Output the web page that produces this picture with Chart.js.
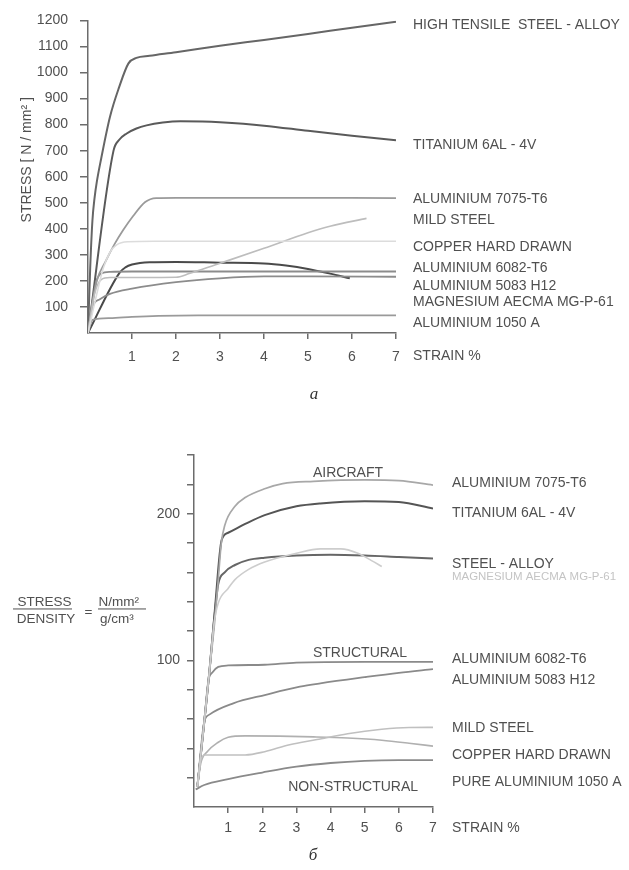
<!DOCTYPE html>
<html>
<head>
<meta charset="utf-8">
<script src="https://cdn.jsdelivr.net/npm/chart.js@4"></script>
<style>
  body { margin: 0; background: #fff; width: 629px; height: 870px; position: relative; overflow: hidden; }
  canvas { position: absolute; left: 0; }
  #top { top: 0; }
  #bottom { top: 420px; }
  .cap { position: absolute; width: 40px; text-align: center; font: italic 17px "Liberation Serif", serif; color: #333; }
</style>
</head>
<body>
<canvas id="top" width="629" height="420"></canvas>
<canvas id="bottom" width="629" height="450"></canvas>
<div class="cap" style="left:294px;top:384px">a</div>
<div class="cap" style="left:293px;top:845px">б</div>
<script>
// ---- chart a: stress (N/mm²) against strain (%) ----
const aHighTensile = [[0,0],[0.05,250],[0.1,430],[0.15,520],[0.2,580],[0.3,670],[0.5,830],[0.7,940],[0.92,1035],[1.1,1056],[1.4,1064],[2,1078],[3,1103],[4,1125],[5,1148],[6,1172],[7,1195]];
const aTitanium = [[0,0],[0.58,700],[0.7,740],[0.88,766],[1.1,785],[1.33,797],[1.7,808],[2.1,813],[2.6,812],[3,809],[4,796],[5,776],[6,757],[7,740]];
const aAl7075 = [[0,0],[0.1,110],[0.2,200],[0.4,275],[0.6,340],[0.8,395],[1.03,450],[1.3,503],[1.55,518],[2,519],[4,519],[7,518]];
const aMildSteel = [[0,0],[0.15,150],[0.3,205],[0.5,213],[1.2,213],[2.0,214],[2.3,228],[2.9,262],[4,325],[5,385],[5.5,410],[6.33,440]];
const aCopper = [[0,0],[0.2,150],[0.35,250],[0.5,310],[0.65,338],[0.9,350],[1.5,352],[7,352]];
const aAl6082 = [[0,0],[0.1,120],[0.2,205],[0.3,228],[0.5,235],[1,236],[7,236]];
const aAl5083 = [[0,0],[0.1,100],[0.27,130],[0.5,150],[1,170],[2,195],[3,210],[4,217],[5,217],[7,216]];
const aMagnesium = [[0,0],[0.72,232],[0.85,252],[1.0,263],[1.4,272],[2,273],[3,270],[4,267],[4.5,259],[5,246],[5.5,228],[5.95,210]];
const aAl1050 = [[0,0],[0.1,50],[0.5,57],[1,62],[1.6,66],[2.5,68],[7,68]];

const aNames = ['HIGH TENSILE  STEEL - ALLOY', 'TITANIUM 6AL - 4V', 'ALUMINIUM 7075-T6', 'MILD STEEL', 'COPPER HARD DRAWN',
  'ALUMINIUM 6082-T6', 'ALUMINIUM 5083 H12', 'MAGNESIUM AECMA MG-P-61', 'ALUMINIUM 1050 A'];
const aNameAt = [1181, 723, 513, 434, 330, 250, 181, 117, 39];
const aYTicks = [0, 1200, 100];
const aXTicks = [0, 7, 1];

// ---- chart б: stress / density against strain (%) ----
const bAl7075 = [[0.1,14],[0.3,58],[0.45,92],[0.6,125],[0.7,152],[0.8,180],[0.9,192],[1.2,205],[1.5,211],[2.07,217],[2.6,220.5],[3.5,222],[5,223],[6,222.5],[7,219.5]];
const bTitanium = [[0.1,14],[0.3,58],[0.45,92],[0.61,134],[0.81,182],[1.0,187],[1.5,193],[2.07,199],[3,205],[3.7,207],[5,208.5],[6,208],[7,203.5]];
const bSteelAlloy = [[0.1,14],[0.3,58],[0.45,92],[0.6,130],[0.71,152],[0.9,160],[1.2,165],[1.6,168.5],[2.07,170],[3,171.5],[4,172],[5,171.5],[6,170.5],[7,169.5]];
const bMagnesium = [[0.1,14],[0.3,58],[0.45,92],[0.58,124],[0.71,139],[1.0,149],[1.2,155],[1.6,162],[2.07,167],[3,173],[3.7,176],[4.3,176],[4.8,173],[5.2,168],[5.5,164]];
const bAl6082 = [[0.1,14],[0.3,58],[0.42,86],[0.55,92],[0.71,95.5],[1.0,96.5],[2.07,97],[3,98.5],[5,99],[7,99]];
const bAl5083 = [[0.1,14],[0.3,58],[0.45,63],[1.15,70.7],[2.1,76.5],[3.1,82],[3.7,84.3],[5,88.5],[6,91.5],[7,94]];
const bMildSteel = [[0.1,14],[0.2,32],[0.32,35.5],[1.0,35.5],[1.5,35.5],[2.07,37.7],[2.8,42.5],[3.6,46],[4.5,50],[5.5,53],[6.3,54.2],[7,54.3]];
const bCopper = [[0.1,14],[0.2,30],[0.4,38],[0.7,44],[1.0,47.5],[1.5,48.5],[2.5,48.3],[3.5,47.8],[4.5,47],[5.5,45.5],[6.3,43.5],[7,41.5]];
const bPureAl = [[0.05,12],[0.3,15],[1,19],[2,23.5],[3,27.5],[4,30],[5,31.5],[6,32],[7,32]];

const bNames = ['ALUMINIUM 7075-T6', 'TITANIUM 6AL - 4V', 'STEEL - ALLOY', 'MAGNESIUM AECMA MG-P-61', 'ALUMINIUM 6082-T6',
  'ALUMINIUM 5083 H12', 'MILD STEEL', 'COPPER HARD DRAWN', 'PURE ALUMINIUM 1050 A'];
const bNameAt = [220.6, 200.1, 165.5, 156.4, 100.6, 86.5, 53.6, 35.4, 17.2];
const bGroups = ['AIRCRAFT', 'STRUCTURAL', 'NON-STRUCTURAL'];
const bGroupAt = [[4.51, 227.5], [4.86, 105], [4.66, 13.6]];
const bYTicks = [0, 240, 20];
const bYLabelled = [100, 200];

const FONT = '"Liberation Sans", Arial, sans-serif';
const TEXT = '#505050';
const AXIS = '#6c6c6c';
Chart.defaults.font.family = FONT;
Chart.defaults.font.size = 14;
Chart.defaults.color = TEXT;

function line(points, color, width) {
  return {
    data: points.map((p) => ({ x: p[0], y: p[1] })),
    borderColor: color,
    borderWidth: width || 1.8,
    pointRadius: 0,
    cubicInterpolationMode: 'monotone',
    fill: false,
  };
}

function hideZero(ctx) {
  return ctx.tick && ctx.tick.value === 0 ? 'rgba(0,0,0,0)' : AXIS;
}

function axisOptions(range, tickLen, pad, label) {
  return {
    type: 'linear',
    min: range[0],
    max: range[1],
    ticks: { stepSize: range[2], autoSkip: false, padding: pad, callback: label },
    grid: { drawOnChartArea: false, drawTicks: true, tickLength: tickLen, color: hideZero, lineWidth: 1.5 },
    border: { display: true, color: AXIS, width: 1.5 },
  };
}

// chart a
var xa = axisOptions(aXTicks, 6, 10, (v) => (v === 0 ? '' : v));
xa.afterFit = (s) => { s.height = 87; };
var ya = axisOptions(aYTicks, 8, 12, (v) => (v === 0 ? '' : v));
ya.afterFit = (s) => { s.width = 88; };

new Chart(document.getElementById('top'), {
  type: 'line',
  data: {
    datasets: [
      line(aCopper, '#dcdcdc', 1.6),
      line(aMildSteel, '#bdbdbd', 1.6),
      line(aAl7075, '#9a9a9a'),
      line(aAl1050, '#9a9a9a'),
      line(aAl5083, '#8c8c8c'),
      line(aAl6082, '#8c8c8c'),
      line(aMagnesium, '#4a4a4a', 2),
      line(aTitanium, '#5a5a5a', 2),
      line(aHighTensile, '#666666', 2),
    ],
  },
  options: {
    responsive: false,
    animation: false,
    layout: { padding: { left: 0, top: 15, right: 233, bottom: 0 } },
    plugins: { legend: { display: false }, tooltip: { enabled: false } },
    scales: { x: xa, y: ya },
  },
  plugins: [{
    id: 'textA',
    afterDraw(chart) {
      const { ctx, chartArea, scales: { x, y } } = chart;
      ctx.save();
      ctx.fillStyle = TEXT;
      ctx.font = '14px ' + FONT;
      ctx.textBaseline = 'middle';
      ctx.textAlign = 'left';
      aNames.forEach((n, i) => ctx.fillText(n, chartArea.right + 17, y.getPixelForValue(aNameAt[i])));
      ctx.fillText('STRAIN %', chartArea.right + 17, x.top + 23);
      ctx.translate(27, y.getPixelForValue(665));
      ctx.rotate(-Math.PI / 2);
      ctx.textAlign = 'center';
      ctx.fillText('STRESS [ N / mm\u00b2 ]', 0, 0);
      ctx.restore();
    },
  }],
});

// chart б
var xb = axisOptions(aXTicks, 6, 7, (v) => (v === 0 ? '' : v));
xb.afterFit = (s) => { s.height = 63; };
var yb = axisOptions(bYTicks, 7, 7, (v) => (bYLabelled.includes(v) ? v : ''));
yb.afterFit = (s) => { s.width = 194; };

new Chart(document.getElementById('bottom'), {
  type: 'line',
  data: {
    datasets: [
      line(bMagnesium, '#cdcdcd', 1.6),
      line(bMildSteel, '#c0c0c0', 1.6),
      line(bCopper, '#b0b0b0', 1.6),
      line(bAl7075, '#a8a8a8', 1.7),
      line(bPureAl, '#8a8a8a'),
      line(bAl5083, '#8a8a8a'),
      line(bAl6082, '#8a8a8a'),
      line(bSteelAlloy, '#666666', 2),
      line(bTitanium, '#555555', 2),
    ],
  },
  options: {
    responsive: false,
    animation: false,
    layout: { padding: { left: 0, top: 35, right: 196, bottom: 0 } },
    plugins: { legend: { display: false }, tooltip: { enabled: false } },
    scales: { x: xb, y: yb },
  },
  plugins: [{
    id: 'textB',
    afterDraw(chart) {
      const { ctx, chartArea, scales: { x, y } } = chart;
      ctx.save();
      ctx.fillStyle = TEXT;
      ctx.font = '14px ' + FONT;
      ctx.textBaseline = 'middle';
      ctx.textAlign = 'left';
      bNames.forEach((n, i) => {
        const py = y.getPixelForValue(bNameAt[i]);
        if (n.startsWith('MAGNESIUM')) {
          // printed tiny and faint in the source
          ctx.save();
          ctx.fillStyle = '#c4c4c4';
          ctx.font = '10px ' + FONT;
          ctx.translate(chartArea.right + 19, py);
          ctx.scale(164 / ctx.measureText(n).width, 1);
          ctx.fillText(n, 0, 0);
          ctx.restore();
        } else {
          ctx.fillText(n, chartArea.right + 19, py);
        }
      });
      ctx.fillText('STRAIN %', chartArea.right + 19, x.top + 21);

      ctx.textAlign = 'center';
      bGroups.forEach((g, i) => ctx.fillText(g, x.getPixelForValue(bGroupAt[i][0]), y.getPixelForValue(bGroupAt[i][1])));

      // fraction title of the y axis
      const mid = y.getPixelForValue(134);
      ctx.font = '13.5px ' + FONT;
      ctx.fillText('STRESS', 44.5, mid - 8);
      ctx.fillText('DENSITY', 46, mid + 8.5);
      ctx.fillText('=', 88.5, mid + 2);
      ctx.textAlign = 'left';
      ctx.fillText('N/mm\u00b2', 98.5, mid - 8);
      ctx.fillText('g/cm\u00b3', 100, mid + 8.5);
      ctx.strokeStyle = TEXT;
      ctx.lineWidth = 1;
      ctx.beginPath();
      ctx.moveTo(13, mid - 1.5); ctx.lineTo(72, mid - 1.5);
      ctx.moveTo(98, mid - 1.5); ctx.lineTo(146, mid - 1.5);
      ctx.stroke();
      ctx.restore();
    },
  }],
});
</script>
</body>
</html>
